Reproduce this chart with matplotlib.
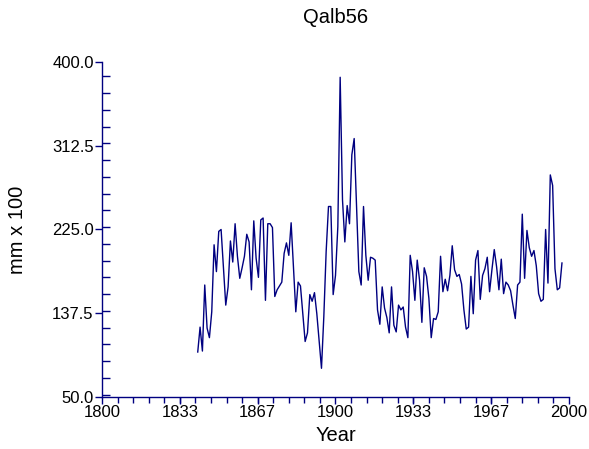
import numpy as np
import matplotlib.pyplot as plt
from matplotlib.ticker import MultipleLocator, FixedLocator

plt.rcParams['font.family'] = ['Liberation Sans', 'DejaVu Sans']

# annual series, 1841-1997
start_year = 1841
values = [
    97, 123, 98, 167, 122, 112, 139, 209, 181, 223,      # 1841-1850
    225, 185, 146, 165, 213, 191, 231, 197, 174, 185,    # 1851-1860
    197, 220, 212, 162, 234, 195, 175, 235, 237, 151,    # 1861-1870
    231, 231, 227, 155, 162, 166, 170, 200, 211, 198,    # 1871-1880
    232, 186, 139, 170, 166, 137, 108, 117, 157, 150,    # 1881-1890
    159, 137, 108, 80, 134, 202, 249, 249, 157, 177,     # 1891-1900
    228, 384, 256, 212, 250, 231, 303, 320, 249, 181,    # 1901-1910
    167, 249, 198, 172, 196, 195, 193, 141, 126, 165,    # 1911-1920
    143, 133, 117, 165, 125, 118, 146, 141, 144, 123,    # 1921-1930
    112, 198, 181, 151, 193, 172, 128, 185, 176, 153,    # 1931-1940
    112, 132, 131, 139, 197, 160, 173, 161, 177, 208,    # 1941-1950
    183, 176, 178, 168, 141, 121, 123, 176, 137, 193,    # 1951-1960
    203, 152, 177, 184, 196, 160, 183, 204, 186, 162,    # 1961-1970
    194, 158, 170, 167, 161, 146, 132, 167, 170, 241,    # 1971-1980
    174, 224, 206, 197, 203, 187, 158, 150, 152, 225,    # 1981-1990
    169, 282, 271, 184, 162, 164, 190,                   # 1991-1997
]
years = np.arange(start_year, start_year + len(values))

x_ticks = [1800, 1833.33, 1866.67, 1900, 1933.33, 1966.67, 2000]
x_tick_labels = ['1800', '1833', '1867', '1900', '1933', '1967', '2000']
y_ticks = [50.0, 137.5, 225.0, 312.5, 400.0]

navy = '#000080'

fig = plt.figure(figsize=(5.89, 4.49), dpi=100)
ax = fig.add_axes([0.1732, 0.1158, 0.7928, 0.7462])

ax.plot(years, values, color=navy, linewidth=1.0)

ax.set_xlim(1800, 2000)
ax.set_ylim(50, 400)
ax.xaxis.set_major_locator(FixedLocator(x_ticks))
ax.set_xticklabels(x_tick_labels)
ax.xaxis.set_minor_locator(MultipleLocator(200 / 30))
ax.yaxis.set_major_locator(FixedLocator(y_ticks))
ax.set_yticklabels([f'{v:.1f}' for v in y_ticks])
ax.yaxis.set_minor_locator(MultipleLocator(17.5))

for side in ['top', 'right']:
    ax.spines[side].set_visible(False)
for side in ['left', 'bottom']:
    ax.spines[side].set_color(navy)
    ax.spines[side].set_linewidth(1.0)

ax.tick_params(axis='both', which='major', colors=navy, labelcolor='black',
               labelsize=12, direction='out', length=5, width=1)
ax.tick_params(axis='x', which='minor', colors=navy, direction='out', length=4, width=1)
ax.tick_params(axis='y', which='minor', colors=navy, direction='in', length=6, width=1)
ax.tick_params(axis='y', which='major', pad=1)
ax.tick_params(axis='x', which='major', pad=1)

ax.set_xlabel('Year', fontsize=14.5)
ax.xaxis.set_label_coords(0.5, -0.088)
ax.set_ylabel('mm x 100', fontsize=14.5)
ax.yaxis.set_label_coords(-0.16, 0.5)
fig.text(0.5696, 0.96, 'Qalb56', ha='center', va='center', fontsize=14.5)

fig.savefig('out.png', dpi=100)
